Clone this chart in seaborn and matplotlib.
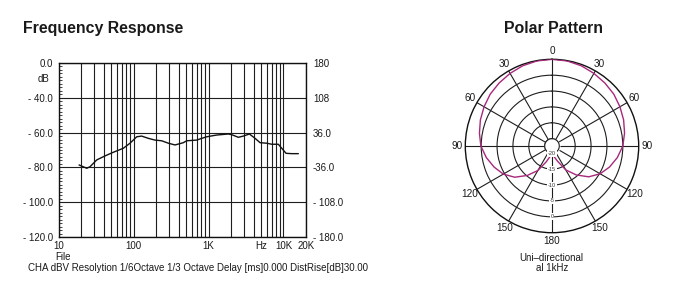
import numpy as np
import pandas as pd
import seaborn as sns
import matplotlib
matplotlib.use("Agg")
import matplotlib.pyplot as plt
from matplotlib.ticker import FixedLocator, LogLocator, MultipleLocator, NullFormatter, FixedFormatter

# ---------------- data ----------------
freq_hz = [18.7, 23.7, 26.2, 32.2, 41.5, 53.6, 72.9, 89.5, 110, 128, 157, 193, 237, 291, 357,
           461, 511, 695, 811, 946, 1285, 1836, 2040, 2500, 2915, 3510, 4180, 4875, 5990,
           6980, 8550, 9490, 10830, 12900, 15810]
level_db = [-78.6, -80.5, -79.6, -75.7, -73.4, -71.3, -69.0, -66.1, -62.4, -62.0, -63.3, -64.3,
            -64.7, -66.1, -67.1, -65.8, -64.7, -64.3, -63.3, -62.4, -61.4, -60.8, -61.2, -62.7,
            -62.0, -60.8, -63.3, -65.8, -66.1, -66.7, -66.7, -69.0, -71.9, -72.1, -72.1]

left_tick_vals = [-20, -40, -60, -80, -100, -120]
left_tick_labels = ["0.0", "- 40.0", "- 60.0", "- 80.0", "- 100.0", "- 120.0"]
right_tick_labels = ["180", "108", "36.0", "-36.0", "- 108.0", "- 180.0"]
x_tick_vals = [10, 100, 1000, 5000, 10000, 20000]
x_tick_labels = ["10", "100", "1K", "Hz", "10K", "20K"]

polar_angle_deg = [0, 10, 20, 30, 40, 50, 60, 70, 80, 90, 100, 110, 120, 130, 140, 150, 160, 170, 180,
                   190, 200, 210, 220, 230, 240, 250, 260, 270, 280, 290, 300, 310, 320, 330, 340, 350, 360]
polar_level_db = [5.0, 4.9, 4.6, 4.1, 3.6, 3.1, 2.4, 1.7, 0.9, 0.0, -1.4, -3.0, -4.8, -7.2, -10.4, -13.6, -17.2, -19.0, -20.3,
                  -19.0, -17.0, -13.4, -10.2, -7.0, -4.6, -2.9, -1.3, 0.1, 0.9, 1.7, 2.4, 3.1, 3.6, 4.1, 4.6, 4.9, 5.0]
polar_ring_vals = [-20, -15, -10, -5, 0]
polar_ring_labels = ["-20", "-15", "-10", "-5", "0"]
polar_theta_labels = ["0", "30", "60", "90", "120", "150", "180", "150", "120", "90", "60", "30"]

# ---------------- style ----------------
sns.set_style("white")
plt.rcParams["font.family"] = ["Liberation Sans", "DejaVu Sans"]
TXT = "#1a1a1a"
GRID = "#1e1e1e"

fig = plt.figure(figsize=(6.98, 2.96), dpi=100)
fig.patch.set_facecolor("white")

def fx(px):
    return px / 698.0

def fy(py):
    return 1 - py / 296.0

# ---------------- frequency response ----------------
ax = fig.add_axes([fx(58.7), fy(237), fx(306) - fx(58.7), fy(63) - fy(237)])
df = pd.DataFrame({"freq": freq_hz, "level": level_db})
sns.lineplot(data=df, x="freq", y="level", ax=ax, color="#111111", linewidth=1.0, sort=False)
ax.set_xscale("log")
ax.set_xlim(10, 20000)
ax.set_ylim(-120, -20)
ax.set_xlabel("")
ax.set_ylabel("")

ax.xaxis.set_major_locator(FixedLocator(x_tick_vals))
ax.xaxis.set_major_formatter(FixedFormatter(x_tick_labels))
ax.xaxis.set_minor_locator(LogLocator(base=10, subs=[2, 3, 4, 5, 6, 7, 8, 9]))
ax.xaxis.set_minor_formatter(NullFormatter())
ax.yaxis.set_major_locator(FixedLocator(left_tick_vals))
ax.yaxis.set_major_formatter(FixedFormatter(left_tick_labels))
ax.yaxis.set_minor_locator(MultipleLocator(2))

ax.grid(True, which="both", axis="x", color=GRID, linewidth=0.8)
ax.grid(True, which="major", axis="y", color=GRID, linewidth=0.8)
ax.grid(False, which="minor", axis="y")
ax.tick_params(axis="x", which="both", length=0, pad=3, labelsize=7, labelcolor=TXT)
ax.tick_params(axis="y", which="major", length=0, pad=4, labelsize=7, labelcolor=TXT)
ax.tick_params(axis="y", which="minor", direction="in", length=2.5, width=0.6,
               left=True, right=True, color="#222222")
for s in ax.spines.values():
    s.set_visible(True)
    s.set_color("#111111")
    s.set_linewidth(1.0)

tw = ax.twinx()
tw.set_ylim(-120, -20)
tw.yaxis.set_major_locator(FixedLocator(left_tick_vals))
tw.yaxis.set_major_formatter(FixedFormatter(right_tick_labels))
tw.tick_params(axis="y", length=0, pad=5, labelsize=7, labelcolor=TXT)
for s in tw.spines.values():
    s.set_visible(False)

fig.text(fx(49), fy(79), "dB", ha="right", va="center", fontsize=7, color=TXT)
fig.text(fx(55), fy(256.5), "File", ha="left", va="center", fontsize=7, color=TXT)
fig.text(fx(28), fy(268), "CHA dBV Resolytion 1/6Octave 1/3 Octave Delay [ms]0.000 DistRise[dB]30.00",
         ha="left", va="center", fontsize=7, color=TXT)
fig.text(fx(23), fy(33.3), "Frequency Response", ha="left", va="baseline",
         fontsize=11.4, fontweight="bold", color=TXT)

# ---------------- polar pattern ----------------
cx, cy, R = 552.0, 146.0, 86.7
pax = fig.add_axes([fx(cx - R), fy(cy + R), fx(2 * R), fy(0) - fy(2 * R)], projection="polar")
pax.set_theta_zero_location("N")
pax.set_theta_direction(-1)
pax.set_ylim(-22.3, 5)
pax.set_yticks(polar_ring_vals)
pax.set_yticklabels([])
pax.set_xticks(np.deg2rad(np.arange(0, 360, 30)))
pax.set_xticklabels(polar_theta_labels)
pax.tick_params(axis="x", pad=-4.5, labelsize=7.2, labelcolor=TXT)
pax.grid(True, color=GRID, linewidth=0.8)
pax.spines["polar"].set_color("#111111")
pax.spines["polar"].set_linewidth(1.0)

th = np.linspace(0, 2 * np.pi, 240)
pax.fill_between(th, -22.3, -20, color="white", zorder=2.5)
pax.plot(th, np.full_like(th, -20.0), color=GRID, linewidth=0.8, zorder=2.6)

pdf = pd.DataFrame({"theta": np.deg2rad(polar_angle_deg), "r": polar_level_db})
sns.lineplot(data=pdf, x="theta", y="r", ax=pax, color="#a8287c", linewidth=1.0, sort=False, zorder=4)
pax.set_xlabel("")
pax.set_ylabel("")

for v, lab in zip(polar_ring_vals, polar_ring_labels):
    pax.text(np.pi, v, lab, ha="center", va="center", fontsize=4, color="#333333", zorder=5,
             bbox=dict(facecolor="white", edgecolor="none", pad=0.6))

fig.text(fx(553.8), fy(33.3), "Polar Pattern", ha="center", va="baseline",
         fontsize=11.4, fontweight="bold", color=TXT)
fig.text(fx(551.7), fy(257.7), "Uni–directional", ha="center", va="center", fontsize=7, color=TXT)
fig.text(fx(551.7), fy(268.3), "al 1kHz", ha="center", va="center", fontsize=7, color=TXT)

fig.savefig("out.png", dpi=100, facecolor="white")
